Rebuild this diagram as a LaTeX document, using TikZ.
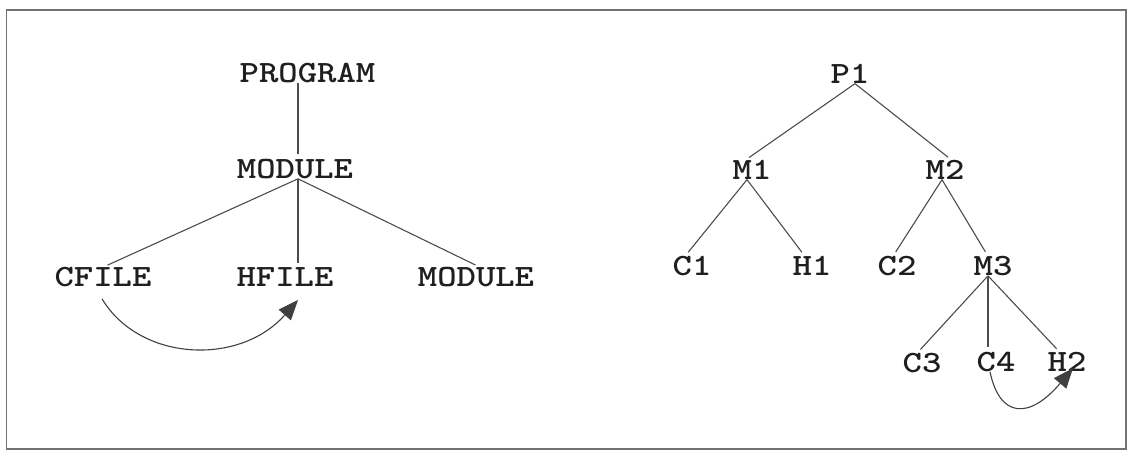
\documentclass[tikz,border=0pt]{standalone}
\usepackage{graphicx}
\usetikzlibrary{arrows.meta}
\newcommand{\lbl}[1]{\scalebox{1.19}[1]{#1}}
\begin{document}
\begin{tikzpicture}[x=1pt,y=-1pt,
  lab/.style={inner sep=0pt, outer sep=0pt, text=black!88, font=\fontsize{31}{31}\selectfont\ttfamily\bfseries},
  edge/.style={draw=black!70, line width=1.1pt, shorten >=5pt},
  dep/.style={draw=black!75, line width=1.1pt, -{Triangle[length=20pt,width=16pt]}}]
\useasboundingbox (0,0) rectangle (1135,452);
\draw[black!55, line width=1.5pt] (6.5,10) rectangle (1126,449);
% left tree
\node[lab] (prog) at (307.5,73.5) {\lbl{PROGRAM}};
\node[lab] (mod1) at (295,169) {\lbl{MODULE}};
\node[lab] (cf) at (103,277) {\lbl{CFILE}};
\node[lab] (hf) at (285,277) {\lbl{HFILE}};
\node[lab] (mod2) at (476,277) {\lbl{MODULE}};
\draw[edge] ([xshift=-9.5pt]prog.south) -- ([xshift=3pt]mod1.north);
\draw[edge] ([xshift=3pt]mod1.south) -- (cf.north);
\draw[edge] ([xshift=3pt]mod1.south) -- ([xshift=13pt]hf.north);
\draw[edge] ([xshift=3pt]mod1.south) -- ([xshift=4pt]mod2.north);
\draw[dep] ([xshift=-1pt,yshift=-12pt]cf.south) .. controls (140,362) and (240,366) .. ([xshift=13pt,yshift=-13.5pt]hf.south);
% right tree
\node[lab] (p1) at (850,74) {\lbl{P1}};
\node[lab] (m1) at (752,170) {\lbl{M1}};
\node[lab] (m2) at (945,170) {\lbl{M2}};
\node[lab] (c1) at (692,266) {\lbl{C1}};
\node[lab] (h1) at (812,266) {\lbl{H1}};
\node[lab] (c2) at (897,266) {\lbl{C2}};
\node[lab] (m3) at (993,266) {\lbl{M3}};
\node[lab] (c3) at (922,363) {\lbl{C3}};
\node[lab] (c4) at (996,362) {\lbl{C4}};
\node[lab] (h2) at (1067,362) {\lbl{H2}};
\draw[edge] ([xshift=5pt]p1.south) -- ([xshift=-7pt]m1.north);
\draw[edge] ([xshift=5pt]p1.south) -- ([xshift=7pt]m2.north);
\draw[edge] ([xshift=-5pt]m1.south) -- ([xshift=-7pt]c1.north);
\draw[edge] ([xshift=-5pt]m1.south) -- ([xshift=-7pt]h1.north);
\draw[edge] ([xshift=-3pt]m2.south) -- ([xshift=-4pt]c2.north);
\draw[edge] ([xshift=-3pt]m2.south) -- ([xshift=-5pt]m3.north);
\draw[edge] ([xshift=-5pt]m3.south) -- ([xshift=-5pt]c3.north);
\draw[edge] ([xshift=-5pt]m3.south) -- ([xshift=-8pt]c4.north);
\draw[edge] ([xshift=-5pt]m3.south) -- ([xshift=-7pt]h2.north);
\draw[dep] ([xshift=-6pt]c4.south) .. controls (1000,419) and (1030,419) .. ([xshift=6pt,yshift=3.5pt]h2.south);
\end{tikzpicture}
\end{document}
